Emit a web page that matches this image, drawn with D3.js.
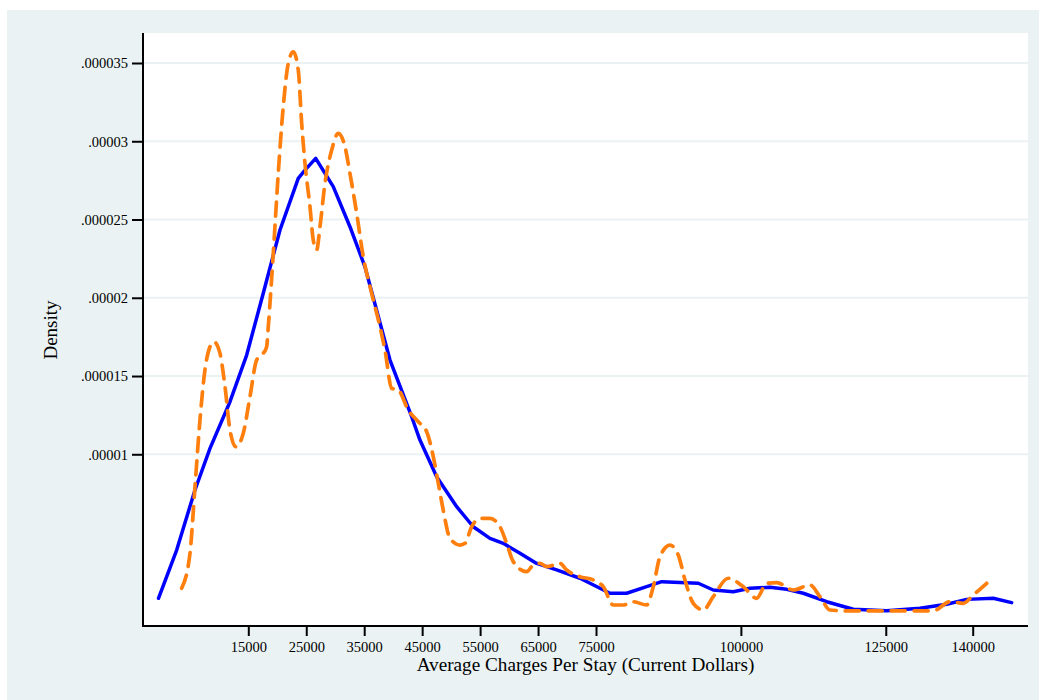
<!DOCTYPE html>
<html>
<head>
<meta charset="utf-8">
<script src="https://cdn.jsdelivr.net/npm/d3@7"></script>
<style>
  body { margin: 0; background: #ffffff; }
  text { font-family: "Liberation Serif", "DejaVu Serif", serif; }
</style>
</head>
<body>
<div id="chart"></div>
<script>
// tick values and labels
const xTicks = [15000, 25000, 35000, 45000, 55000, 65000, 75000, 100000, 125000, 140000];
const yTicks = [0.00001, 0.000015, 0.00002, 0.000025, 0.00003, 0.000035];
const yTickLabels = ['.00001', '.000015', '.00002', '.000025', '.00003', '.000035'];

// solid blue density (x in dollars, y in units of 1e-6)
const blueX = [-500, 2640, 5800, 8390, 11840, 14720, 17580, 20470, 23620, 24780, 26630, 29660,
  32540, 35130, 39450, 43190, 44620, 47500, 50960, 53820, 56700, 59000, 61880, 64760, 68210,
  72230, 77410, 80290, 83740, 86330, 92650, 95230, 98690, 101570, 105020, 107900, 110770,
  114810, 119390, 125160, 130900, 135510, 138960, 143550, 146720];
const blueY = [0.80, 3.88, 7.72, 10.38, 13.36, 16.34, 20.29, 24.33, 27.63, 28.16, 28.91, 27.10,
  24.54, 21.98, 16.02, 12.40, 10.91, 8.57, 6.65, 5.37, 4.63, 4.31, 3.67, 3.03, 2.61,
  2.08, 1.12, 1.12, 1.54, 1.86, 1.76, 1.33, 1.22, 1.44, 1.50, 1.37, 1.12,
  0.58, 0.10, 0.01, 0.16, 0.42, 0.73, 0.80, 0.52];

// dashed orange density
const orangeX = [3500, 4935, 5800, 6660, 7520, 8390, 9080, 10110, 10980, 11840, 12870, 14130,
  15290, 16440, 17580, 18170, 18450, 19310, 20170, 21030, 21900, 22760, 23620, 24210, 24780,
  25640, 26210, 26800, 27370, 28230, 29390, 30530, 31680, 32540, 33700, 34840, 36290, 37720,
  38580, 39740, 40880, 42600, 44330, 45780, 46920, 47780, 48640, 49800, 51530, 52390, 53540,
  54980, 56700, 58430, 59580, 60720, 63040, 64170, 65330, 66490, 68780, 69940, 72230, 74530,
  76250, 77980, 79700, 81430, 83740, 84880, 86040, 87760, 89190, 90350, 91780, 93510, 95230,
  97820, 100410, 102720, 104450, 106170, 109040, 111920, 113650, 115370, 118000, 125000,
  133200, 136080, 138370, 140100, 142410];
const orangeY = [1.44, 3.67, 7.93, 12.19, 15.39, 16.87, 17.19, 16.45, 14.32, 11.55, 10.48, 11.34,
  13.68, 16.02, 16.45, 16.87, 18.15, 22.84, 27.95, 32.21, 34.98, 35.72, 34.55, 31.15, 28.59,
  25.82, 23.69, 23.05, 24.54, 27.31, 29.44, 30.51, 29.65, 27.95, 25.40, 22.62, 20.28, 18.15,
  16.66, 14.22, 14.11, 12.83, 12.08, 11.44, 9.85, 8.15, 6.44, 4.63, 4.20, 4.31, 5.37,
  5.91, 5.91, 5.37, 4.31, 3.14, 2.50, 2.93, 3.03, 2.82, 3.03, 2.61, 2.18, 1.97,
  1.54, 0.37, 0.37, 0.58, 0.37, 1.54, 3.46, 4.20, 3.57, 1.97, 0.48, 0.05, 0.90,
  2.08, 1.54, 0.80, 1.76, 1.80, 1.33, 1.65, 0.90, 0.05, 0, 0,
  0, 0.58, 0.48, 1.01, 1.76];

const svgWidth = 1039;
const svgHeight = 700;
const plot = { left: 143, right: 1028, top: 33, bottom: 626 };

const svg = d3.select('#chart')
  .append('svg')
  .attr('width', svgWidth)
  .attr('height', svgHeight);

// outer graph region and white plot region
svg.append('rect')
  .attr('x', 7).attr('y', 10)
  .attr('width', svgWidth - 7).attr('height', svgHeight - 10)
  .attr('fill', '#eaf2f3');

svg.append('rect')
  .attr('x', plot.left).attr('y', plot.top)
  .attr('width', plot.right - plot.left).attr('height', plot.bottom - plot.top)
  .attr('fill', '#ffffff');

const x = d3.scaleLinear()
  .domain([15000, 140000])
  .range([248.3, 972.7]);

const y = d3.scaleLinear()
  .domain([0, 0.000035])
  .range([610.8, 63]);

// horizontal grid lines
svg.append('g')
  .selectAll('line')
  .data(yTicks)
  .enter()
  .append('line')
  .attr('x1', plot.left)
  .attr('x2', plot.right)
  .attr('y1', (d) => y(d))
  .attr('y2', (d) => y(d))
  .attr('stroke', '#eaf2f3')
  .attr('stroke-width', 2);

const line = d3.line()
  .x((d) => x(d[0]))
  .y((d) => y(d[1] * 1e-6));

svg.append('path')
  .datum(blueX.map((v, i) => [v, blueY[i]]))
  .attr('d', line.curve(d3.curveLinear))
  .attr('fill', 'none')
  .attr('stroke', '#0000ff')
  .attr('stroke-width', 3.5)
  .attr('stroke-linejoin', 'round')
  .attr('stroke-linecap', 'round');

svg.append('path')
  .datum(orangeX.map((v, i) => [v, orangeY[i]]))
  .attr('d', line.curve(d3.curveMonotoneX))
  .attr('fill', 'none')
  .attr('stroke', '#ff7f0e')
  .attr('stroke-width', 3.7)
  .attr('stroke-dasharray', '14,9')
  .attr('stroke-linejoin', 'round')
  .attr('stroke-linecap', 'round');

// y axis
const yAxis = svg.append('g')
  .attr('transform', `translate(${plot.left}, 0)`)
  .call(
    d3.axisLeft(y)
    .tickValues(yTicks)
    .tickSize(11)
    .tickPadding(4)
    .tickFormat((d, i) => yTickLabels[i])
  );
yAxis.select('.domain').remove();
yAxis.selectAll('.tick line').attr('stroke', '#000').attr('stroke-width', 2);
yAxis.selectAll('.tick text')
  .attr('font-family', '"Liberation Serif", serif')
  .attr('font-size', 14.5)
  .attr('fill', '#000')
  .attr('dy', '0.33em');

// x axis
const xAxis = svg.append('g')
  .attr('transform', `translate(0, ${plot.bottom})`)
  .call(
    d3.axisBottom(x)
    .tickValues(xTicks)
    .tickSize(10)
    .tickPadding(6)
    .tickFormat(d3.format('d'))
  );
xAxis.select('.domain').remove();
xAxis.selectAll('.tick line').attr('stroke', '#000').attr('stroke-width', 2);
xAxis.selectAll('.tick text')
  .attr('font-family', '"Liberation Serif", serif')
  .attr('font-size', 14.5)
  .attr('fill', '#000');

// axis lines
svg.append('line')
  .attr('x1', plot.left).attr('x2', plot.left)
  .attr('y1', plot.top).attr('y2', plot.bottom + 1)
  .attr('stroke', '#000').attr('stroke-width', 2);
svg.append('line')
  .attr('x1', plot.left - 1).attr('x2', plot.right)
  .attr('y1', plot.bottom).attr('y2', plot.bottom)
  .attr('stroke', '#000').attr('stroke-width', 2);

// axis titles
svg.append('text')
  .attr('x', (plot.left + plot.right) / 2)
  .attr('y', 671)
  .attr('text-anchor', 'middle')
  .attr('font-size', 19.2)
  .attr('fill', '#000')
  .text('Average Charges Per Stay (Current Dollars)');

svg.append('text')
  .attr('transform', 'translate(57, 330) rotate(-90)')
  .attr('text-anchor', 'middle')
  .attr('font-size', 19)
  .attr('fill', '#000')
  .text('Density');
</script>
</body>
</html>
